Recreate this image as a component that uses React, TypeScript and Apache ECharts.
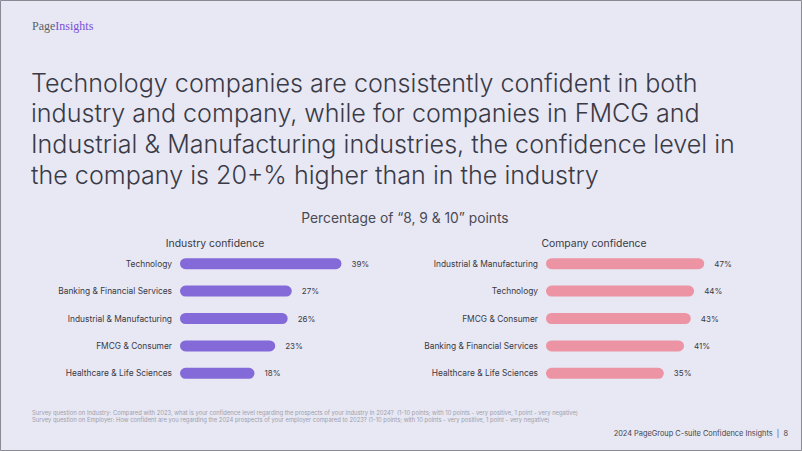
import React, { useEffect, useRef } from "react";
import * as echarts from "echarts";

const industryCategories = [
  "Technology",
  "Banking & Financial Services",
  "Industrial & Manufacturing",
  "FMCG & Consumer",
  "Healthcare & Life Sciences",
];
const industryValues = [39, 27, 26, 23, 18];

const companyCategories = [
  "Industrial & Manufacturing",
  "Technology",
  "FMCG & Consumer",
  "Banking & Financial Services",
  "Healthcare & Life Sciences",
];
const companyValues = [47, 44, 43, 41, 35];

const titleLines = [
  "Technology companies are consistently confident in both",
  "industry and company, while for companies in FMCG and",
  "Industrial & Manufacturing industries, the confidence level in",
  "the company is 20+% higher than in the industry",
];
const subtitle = "Percentage of \u201c8, 9 & 10\u201d points";
const leftHeader = "Industry confidence";
const rightHeader = "Company confidence";
const footnotes = [
  "Survey question on Industry: Compared with 2023, what is your confidence level regarding the prospects of your industry in 2024?  (1-10 points; with 10 points - very positive, 1 point - very negative)",
  "Survey question on Employer: How confident are you regarding the 2024 prospects of your employer compared to 2023? (1-10 points; with 10 points - very positive, 1 point - very negative)",
];
const footer = "2024 PageGroup C-suite Confidence Insights  |  8";

const PURPLE = "#8469d8";
const PINK = "#ec94a3";
const TEXT = "#3a3a46";

export default function App() {
  const ref = useRef<HTMLDivElement>(null);
  useEffect(() => {
    if (!ref.current) return;
    const chart = echarts.init(ref.current, null, { renderer: "svg" });
    const catAxis = (gi: number, data: string[]) => ({
      type: "category",
      gridIndex: gi,
      data,
      inverse: true,
      axisLine: { show: false },
      axisTick: { show: false },
      axisLabel: {
        margin: 8,
        fontFamily: "Inter",
        fontSize: 8.4,
        color: "#3a3a44",
      },
    });
    const valAxis = (gi: number, max: number) => ({
      type: "value",
      gridIndex: gi,
      min: 0,
      max,
      show: false,
      splitLine: { show: false },
    });
    const barSeries = (gi: number, data: number[], color: string) => ({
      type: "bar",
      xAxisIndex: gi,
      yAxisIndex: gi,
      data,
      barWidth: 11,
      itemStyle: { color, borderRadius: 5.5 },
      label: {
        show: true,
        position: "right",
        distance: 10,
        formatter: "{c}%",
        fontFamily: "Inter",
        fontSize: 8,
        color: "#3a3a44",
      },
    });
    const titleTexts = titleLines.map((t, i) => ({
      type: "text",
      left: 31,
      top: 70 + i * 30.8,
      style: {
        text: t,
        fontFamily: "Inter",
        fontWeight: 300,
        fontSize: 25.1,
        fill: TEXT,
      },
    }));
    chart.setOption({
      animation: false,
      backgroundColor: "#e7e8f4",
      grid: [
        { left: 180, top: 250, width: 207, height: 137 },
        { left: 546, top: 250, width: 202, height: 137 },
      ],
      xAxis: [valAxis(0, 50), valAxis(1, 60)],
      yAxis: [catAxis(0, industryCategories), catAxis(1, companyCategories)],
      series: [
        barSeries(0, industryValues, PURPLE),
        barSeries(1, companyValues, PINK),
      ],
      graphic: [
        {
          type: "rect",
          shape: { x: 0.5, y: 0.5, width: 801, height: 450 },
          style: { fill: "none", stroke: "#8a8a92", lineWidth: 1 },
          silent: true,
        },
        {
          type: "text",
          left: 32,
          top: 20,
          style: {
            text: "{a|Page}{b|Insights}",
            rich: {
              a: { fontFamily: "Liberation Serif", fontSize: 12, fill: "#5e5e64" },
              b: { fontFamily: "Liberation Serif", fontSize: 12, fill: "#7a4fd8" },
            },
          },
        },
        ...titleTexts,
        {
          type: "text",
          x: 405,
          y: 218,
          style: {
            text: subtitle,
            fontFamily: "Inter",
            fontSize: 13.8,
            fill: "#4a4a55",
            align: "center",
            verticalAlign: "middle",
          },
        },
        {
          type: "text",
          x: 215,
          y: 243.5,
          style: {
            text: leftHeader,
            fontFamily: "Inter",
            fontSize: 10.4,
            fill: "#3a3a44",
            align: "center",
            verticalAlign: "middle",
          },
        },
        {
          type: "text",
          x: 594,
          y: 243.5,
          style: {
            text: rightHeader,
            fontFamily: "Inter",
            fontSize: 10.4,
            fill: "#3a3a44",
            align: "center",
            verticalAlign: "middle",
          },
        },
        ...footnotes.map((t, i) => ({
          type: "text",
          x: 32,
          y: 412.5 + i * 6.5,
          style: {
            text: t,
            fontFamily: "Inter",
            fontSize: 5.85,
            fill: "#a0a0aa",
            verticalAlign: "middle",
          },
        })),
        {
          type: "text",
          x: 788,
          y: 433,
          style: {
            text: footer,
            fontFamily: "Inter",
            fontSize: 7.4,
            fill: "#44444e",
            align: "right",
            verticalAlign: "middle",
          },
        },
      ],
    });
    return () => chart.dispose();
  }, []);
  return (
    <div
      ref={ref}
      style={{ position: "fixed", left: 0, top: 0, width: 802, height: 451 }}
    />
  );
}
